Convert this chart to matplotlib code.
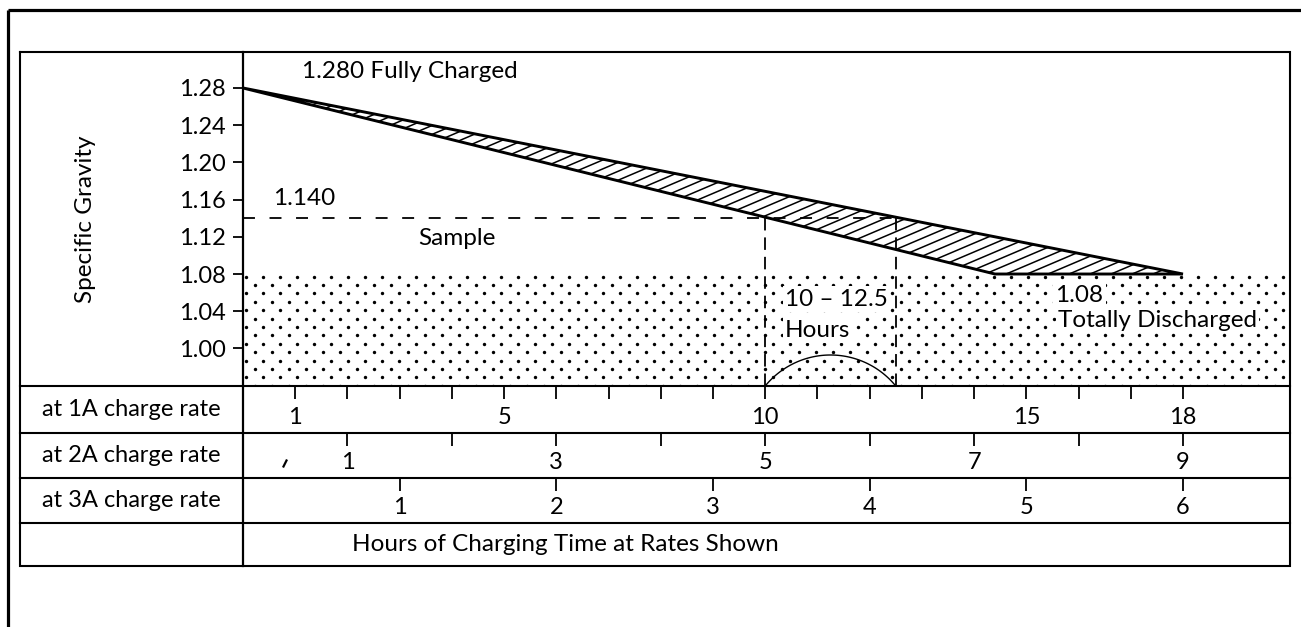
import numpy as np
import matplotlib
matplotlib.use("Agg")
import matplotlib.pyplot as plt
from matplotlib.patches import Polygon

plt.rcParams['font.family'] = ['Lato', 'DejaVu Sans']
plt.rcParams['lines.scale_dashes'] = False

# ---- values -------------------------------------------------------------
sg_ticks = [1.00, 1.04, 1.08, 1.12, 1.16, 1.20, 1.24, 1.28]
full_charge = 1.280
discharged = 1.08
sample_sg = 1.140
band_fast_end = 14.4     # hours at 1A where the fast edge reaches 1.08
band_slow_end = 18.0     # hours at 1A where the slow edge reaches 1.08
sample_hours = [10.0, 12.5]

hours_1a_ticks = list(range(1, 19))
hours_1a_labels = [1, 5, 10, 15, 18]
hours_2a_ticks = list(range(1, 10))
hours_2a_labels = [1, 3, 5, 7, 9]
hours_3a_ticks = [1, 2, 3, 4, 5, 6]
hours_3a_labels = [1, 2, 3, 4, 5, 6]
rate_amps = [1, 2, 3]
rate_names = ["at 1A charge rate", "at 2A charge rate", "at 3A charge rate"]
x_title = "Hours of Charging Time at Rates Shown"

# ---- layout (pixels) ----------------------------------------------------
W, H = 1301, 627
DPI = 100
FS = 17
FS_NOTE = 17.5
x_left, x_axis, x_right = 20, 243, 1290
row_y = [52, 386, 433, 478, 523, 566]
x_max = 20.05
y_lim = (0.9596, 1.3187)


def fx(px):
    return px / W


def fy(py):
    return 1 - py / H


fig = plt.figure(figsize=(W / DPI, H / DPI), dpi=DPI)

# background frame and table rules
bg = fig.add_axes([0, 0, 1, 1], zorder=-1)
bg.set_xlim(0, W)
bg.set_ylim(H, 0)
bg.axis('off')
bg.plot([8, 8], [10, H], color='black', lw=2.3, solid_capstyle='butt')
bg.plot([8, W], [10, 10], color='black', lw=2.3, solid_capstyle='butt')
bg.plot([x_left, x_right, x_right, x_left, x_left],
        [row_y[0], row_y[0], row_y[-1], row_y[-1], row_y[0]],
        color='black', lw=1.5, solid_joinstyle='miter')
bg.plot([x_axis, x_axis], [row_y[0], row_y[-1]], color='black', lw=1.6)
for yy in row_y[1:-1]:
    bg.plot([x_left, x_right], [yy, yy], color='black', lw=1.5)
bg.plot([283.5, 286.5], [466.5, 460.5], color='black', lw=1.6)

# ---- main chart ---------------------------------------------------------
ax = fig.add_axes([fx(x_axis), fy(row_y[1]), fx(x_right) - fx(x_axis),
                   fy(row_y[0]) - fy(row_y[1])])
ax.set_facecolor('none')
ax.set_xlim(0, x_max)
ax.set_ylim(*y_lim)
for s in ax.spines.values():
    s.set_visible(False)
ax.set_xticks([])
ax.set_yticks(sg_ticks)
ax.set_yticklabels([f"{v:.2f}" for v in sg_ticks])
ax.tick_params(axis='y', direction='out', length=7.2, width=1.3, pad=5,
               labelsize=FS)

to_data = ax.transData.inverted()


def px2data(px, py):
    return to_data.transform(np.column_stack([px, H - np.asarray(py)]))


# stippled "discharged" zone below 1.08
y_top_px = H - ax.transData.transform((0, discharged))[1]
rows = np.arange(y_top_px + 2.5, row_y[1], 8.4)
dots_x, dots_y = [], []
for i, ry in enumerate(rows):
    start = x_axis + 3 + (8.5 if i % 2 else 0)
    cols = np.arange(start, x_right, 17.0)
    dots_x.extend(cols)
    dots_y.extend([ry] * len(cols))
dots = px2data(np.array(dots_x), np.array(dots_y))
ax.scatter(dots[:, 0], dots[:, 1], s=6, color='black', linewidths=0, zorder=1)

# discharge band between fast and slow edges
band = Polygon([(0, full_charge), (band_slow_end, discharged),
                (band_fast_end, discharged)], closed=True,
               facecolor='none', edgecolor='black', lw=2.1,
               joinstyle='miter', zorder=5)
ax.add_patch(band)

# slanted hatching inside the band
ang = np.tan(np.radians(23))
y_anchor = H - ax.transData.transform((0, full_charge))[1]
for c in np.arange(x_axis - 200, x_right + 400, 21.0):
    xs = np.array([x_axis, x_right])
    ys = y_anchor + 60 - ang * (xs - c)
    seg = px2data(xs, ys)
    ln, = ax.plot(seg[:, 0], seg[:, 1], color='black', lw=1.1, zorder=4)
    ln.set_clip_path(band)

# sample reading guides
ax.plot([0, sample_hours[1]], [sample_sg, sample_sg], color='black', lw=1.3,
        dashes=(8.6, 10.5), zorder=3)
for h in sample_hours:
    ax.plot([h, h], [y_lim[0], sample_sg], color='black', lw=1.3,
            dashes=(9, 5), zorder=3)

# circular arc spanning the sample interval (built in screen proportions)
px_per_h = (ax.transData.transform((1, 0))[0]
            - ax.transData.transform((0, 0))[0])
px_per_sg = (ax.transData.transform((0, 1.0))[1]
             - ax.transData.transform((0, 0.9))[1]) / 0.1
span_px = (sample_hours[1] - sample_hours[0]) * px_per_h
sag_px = 31.0
r_px = ((span_px / 2) ** 2 + sag_px ** 2) / (2 * sag_px)
half = np.arcsin((span_px / 2) / r_px)
t = np.linspace(np.pi / 2 - half, np.pi / 2 + half, 120)
cx = np.mean(sample_hours)
cy = y_lim[0] - (r_px - sag_px) / px_per_sg
ax.plot(cx + r_px * np.cos(t) / px_per_h, cy + r_px * np.sin(t) / px_per_sg,
        color='black', lw=1.0, zorder=3)

# annotations
white = dict(facecolor='white', edgecolor='none', pad=1.5)
ax.text(1.13, 1.2972, f"{full_charge:.3f} Fully Charged", fontsize=FS_NOTE,
        ha='left', va='center', zorder=6)
ax.text(0.575, 1.1617, f"{sample_sg:.3f}", fontsize=FS_NOTE, ha='left',
        va='center', zorder=6)
ax.text(3.35, 1.1187, "Sample", fontsize=FS_NOTE, ha='left', va='center',
        zorder=6)
ax.text(10.38, 1.0531, f"{sample_hours[0]:g} \u2013 {sample_hours[1]:g}",
        fontsize=FS_NOTE, ha='left', va='center', zorder=6, bbox=white)
ax.text(10.38, 1.0198, "Hours", fontsize=FS_NOTE, ha='left', va='center',
        zorder=6, bbox=white)
ax.text(15.56, 1.0574, f"{discharged:.2f}", fontsize=FS_NOTE, ha='left',
        va='center', zorder=6, bbox=white)
ax.text(15.61, 1.0305, "Totally Discharged", fontsize=FS_NOTE, ha='left',
        va='center', zorder=6, bbox=white)

fig.text(fx(86), fy(219), "Specific Gravity", rotation=90, fontsize=FS_NOTE,
         ha='center', va='center')

# ---- charge-rate rows ---------------------------------------------------
row_ticks = [hours_1a_ticks, hours_2a_ticks, hours_3a_ticks]
row_labels = [hours_1a_labels, hours_2a_labels, hours_3a_labels]
for i, amps in enumerate(rate_amps):
    top, bot = row_y[i + 1], row_y[i + 2]
    rax = fig.add_axes([fx(x_axis), fy(bot), fx(x_right) - fx(x_axis),
                        fy(top) - fy(bot)])
    rax.set_facecolor('none')
    for s in rax.spines.values():
        s.set_visible(False)
    rax.set_xlim(0, x_max / amps)
    rax.set_ylim(0, 1)
    rax.set_yticks([])
    rax.set_xticks(row_ticks[i])
    rax.tick_params(axis='x', top=True, bottom=False, labeltop=False,
                    labelbottom=False, direction='in', length=9, width=1.3)
    for v in row_labels[i]:
        rax.text(v, 0.34, str(v), fontsize=FS, ha='center', va='center')
    fig.text(fx((x_left + x_axis) / 2), fy((top + bot) / 2), rate_names[i],
             fontsize=FS, ha='center', va='center')

fig.text(fx(352), fy((row_y[4] + row_y[5]) / 2), x_title, fontsize=FS_NOTE,
         ha='left', va='center')

fig.savefig("out.png", dpi=DPI, facecolor='white')
